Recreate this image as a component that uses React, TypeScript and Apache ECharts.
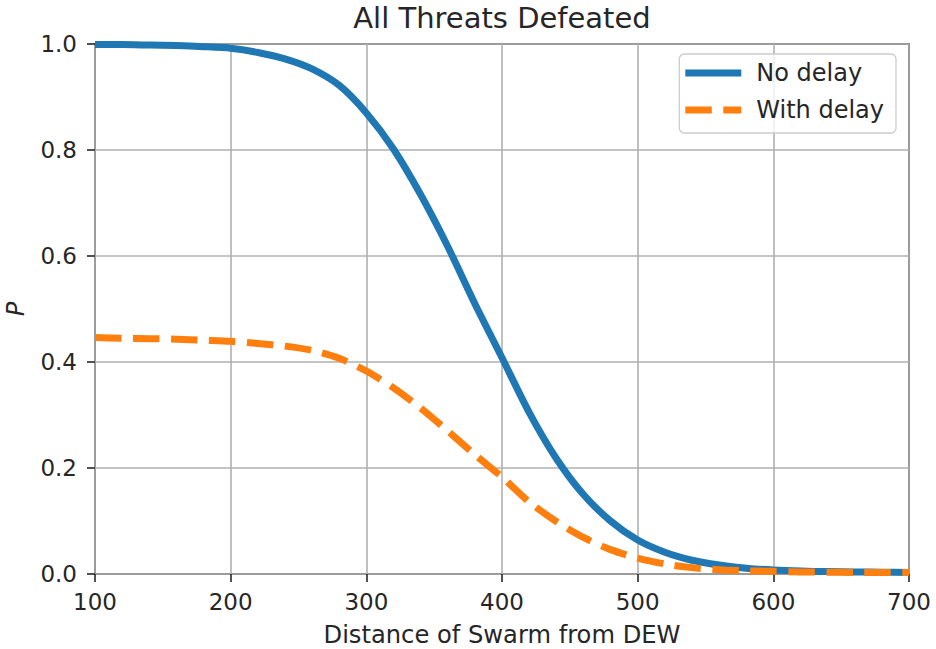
import React, { useEffect, useRef } from "react";
import * as echarts from "echarts";

const distances = [100, 120, 140, 160, 180, 200, 220, 240, 260, 280, 300, 320, 340, 360, 380, 400, 420, 440, 460, 480, 500, 520, 540, 560, 580, 600, 620, 640, 660, 680, 700];
const noDelay = [0.999, 0.999, 0.998, 0.997, 0.995, 0.992, 0.984, 0.972, 0.953, 0.922, 0.870, 0.802, 0.716, 0.618, 0.510, 0.408, 0.305, 0.218, 0.150, 0.100, 0.064, 0.041, 0.026, 0.017, 0.011, 0.0075, 0.0055, 0.0045, 0.004, 0.0035, 0.003];
const withDelay = [0.446, 0.445, 0.444, 0.443, 0.441, 0.439, 0.435, 0.430, 0.422, 0.407, 0.383, 0.351, 0.313, 0.270, 0.225, 0.183, 0.136, 0.099, 0.069, 0.046, 0.030, 0.019, 0.012, 0.008, 0.006, 0.005, 0.004, 0.0035, 0.003, 0.003, 0.003];
const seriesNames = ["No delay", "With delay"];
const chartTitle = "All Threats Defeated";
const xName = "Distance of Swarm from DEW";
const yName = "P";

const FONT = "DejaVu Sans";
const INK = "#262626";
const BLUE = "#1f77b4";
const ORANGE = "#ff7f0e";

export default function App() {
  const ref = useRef<HTMLDivElement>(null);
  useEffect(() => {
    if (!ref.current) return;
    const chart = echarts.init(ref.current, undefined, { renderer: "svg" });
    const pairs = (ys: number[]) => distances.map((x, i) => [x, ys[i]]);
    chart.setOption({
      animation: false,
      backgroundColor: "#ffffff",
      textStyle: { fontFamily: FONT, color: INK },
      title: {
        text: chartTitle,
        left: 497,
        textAlign: "center",
        top: -2,
        textStyle: { fontFamily: FONT, fontSize: 29, fontWeight: "normal", color: INK },
      },
      legend: {
        orient: "vertical",
        right: 40,
        top: 54,
        itemWidth: 56,
        itemHeight: 7,
        itemGap: 9,
        padding: [5, 12, 9, 6],
        backgroundColor: "rgba(255,255,255,0.8)",
        borderColor: "#cccccc",
        borderWidth: 1.3,
        borderRadius: 5,
        textStyle: { fontFamily: FONT, fontSize: 24, color: INK, padding: [0, 0, 0, 10], lineHeight: 28 },
        data: [
          { name: seriesNames[0], icon: "path://M0,0h56v7h-56z", itemStyle: { color: BLUE } },
          { name: seriesNames[1], icon: "path://M0,0h26.5v7h-26.5zM38,0h18v7h-18z", itemStyle: { color: ORANGE } },
        ],
      },
      grid: {
        left: 95,
        right: 27,
        top: 44,
        bottom: 75,
        containLabel: false,
        outerBoundsMode: "none",
        show: true,
        borderColor: INK,
        borderWidth: 1.6,
        backgroundColor: "transparent",
      },
      xAxis: {
        type: "value",
        min: 100,
        max: 700,
        interval: 100,
        name: xName,
        nameLocation: "middle",
        nameGap: 49,
        nameTextStyle: { fontFamily: FONT, fontSize: 24.2, color: INK },
        axisLine: { show: false },
        axisTick: { show: true, length: 8, inside: false, lineStyle: { color: INK, width: 1.6 } },
        axisLabel: { margin: 16, fontFamily: FONT, fontSize: 23, color: INK },
        splitLine: { show: true, lineStyle: { color: "#b0b0b0", width: 1.6 } },
      },
      yAxis: {
        type: "value",
        min: 0,
        max: 1,
        interval: 0.2,
        name: yName,
        nameLocation: "middle",
        nameGap: 67,
        nameRotate: 90,
        nameTextStyle: { fontFamily: FONT, fontSize: 24, fontStyle: "italic", color: INK },
        axisLine: { show: false },
        axisTick: { show: true, length: 8, inside: false, lineStyle: { color: INK, width: 1.6 } },
        axisLabel: {
          margin: 18,
          fontFamily: FONT,
          fontSize: 23,
          color: INK,
          formatter: (v: number) => v.toFixed(1),
        },
        splitLine: { show: true, lineStyle: { color: "#b0b0b0", width: 1.6 } },
      },
      series: [
        {
          name: seriesNames[0],
          type: "line",
          data: pairs(noDelay),
          showSymbol: false,
          symbol: "none",
          smooth: 0.25,
          clip: true,
          z: 3,
          lineStyle: { color: BLUE, width: 7, cap: "butt", join: "round" },
          itemStyle: { color: BLUE },
        },
        {
          name: seriesNames[1],
          type: "line",
          data: pairs(withDelay),
          showSymbol: false,
          symbol: "none",
          smooth: 0.25,
          clip: true,
          z: 4,
          lineStyle: { color: ORANGE, width: 7, type: [26.5, 11.5], cap: "butt", join: "round" },
          itemStyle: { color: ORANGE },
        },
      ],
    });
    return () => chart.dispose();
  }, []);
  return (
    <div
      ref={ref}
      style={{ position: "absolute", left: 0, top: 0, width: 936, height: 649 }}
    />
  );
}
